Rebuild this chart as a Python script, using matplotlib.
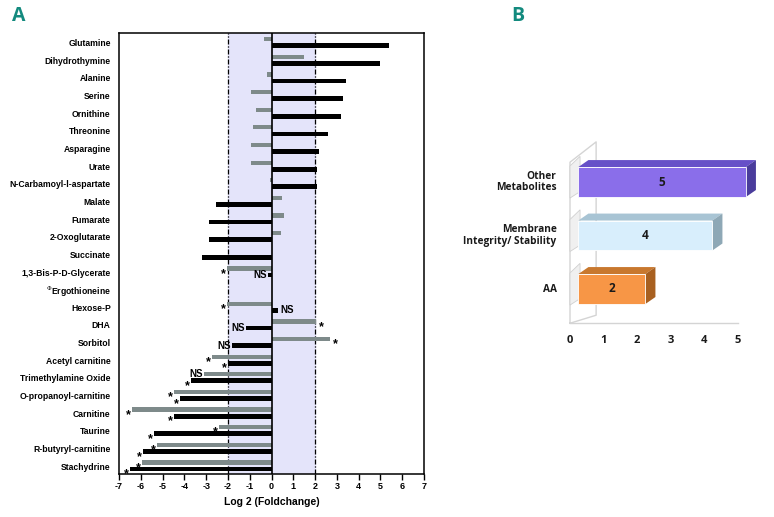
import numpy as np
import matplotlib
matplotlib.use('Agg')
import matplotlib.pyplot as plt
from matplotlib.patches import Polygon, Rectangle

# ---- Panel A data ----
metabolites = ['Glutamine', 'Dihydrothymine', 'Alanine', 'Serine', 'Ornithine', 'Threonine',
               'Asparagine', 'Urate', 'N-Carbamoyl-l-aspartate', 'Malate', 'Fumarate',
               '2-Oxoglutarate', 'Succinate', '1,3-Bis-P-D-Glycerate', r'$^{\Phi}$Ergothioneine',
               'Hexose-P', 'DHA', 'Sorbitol', 'Acetyl carnitine', 'Trimethylamine Oxide',
               'O-propanoyl-carnitine', 'Carnitine', 'Taurine', 'R-butyryl-carnitine', 'Stachydrine']
gray_vals = [-0.33, 1.5, -0.2, -0.96, -0.72, -0.87, -0.95, -0.96, -0.05, 0.47, 0.57,
             0.42, 0.0, -2.05, 0.0, -2.05, 2.05, 2.7, -2.72, -3.08,
             -4.46, -6.4, -2.4, -5.24, -5.95]
black_vals = [5.4, 4.96, 3.4, 3.26, 3.2, 2.59, 2.16, 2.1, 2.08, -2.54, -2.86,
              -2.86, -3.2, -0.14, 0.0, 0.29, -1.16, -1.8, -2.0, -3.7,
              -4.19, -4.46, -5.38, -5.9, -6.48]
gray_marks = ['', '', '', '', '', '', '', '', '', '', '', '', '', '*', '', '*', '*', '*', '*', 'NS',
              '*', '*', '*', '*', '*']
black_marks = ['', '', '', '', '', '', '', '', '', '', '', '', '', 'NS', '', 'NS', 'NS', 'NS', '*', '*',
               '*', '*', '*', '*', '*']
xticks_a = list(range(-7, 8))

# ---- Panel B data ----
groups = ['AA', 'Membrane\nIntegrity/ Stability', 'Other\nMetabolites']
counts = [2, 4, 5]
front_cols = ['#f79646', '#d8eefc', '#8a6eea']
top_cols = ['#c8782e', '#a8c4d4', '#6650c8']
side_cols = ['#a86020', '#8ea8b6', '#4a3c9c']

plt.rcParams['font.family'] = ['Liberation Sans', 'DejaVu Sans']

fig = plt.figure(figsize=(7.74, 5.17), dpi=100)
W, H = 774, 517

# ---------------- Panel A ----------------
ax = fig.add_axes([119 / W, 1 - 474 / H, 305 / W, 441 / H])
n = len(metabolites)
y = np.arange(n)
ax.axvspan(-2, 2, color='#e4e4fa', zorder=0)
ax.barh(y - 0.2, gray_vals, height=0.24, color='#7e8a8a', zorder=2)
ax.barh(y + 0.17, black_vals, height=0.27, color='#000000', zorder=2)
ax.axvline(0, color='black', lw=1.2, zorder=3)
for xv in (-2, 2):
    ax.axvline(xv, color='black', lw=0.9, ls=(0, (4, 1.5, 1, 1.5)), zorder=1)

def mark(val, yy, s):
    if not s:
        return
    fs = 9 if s == '*' else 7
    dy = 0.3 if s == '*' else 0.0
    if val < 0:
        ax.text(val - 0.05, yy + dy, s, ha='right', va='center', fontsize=fs, fontweight='bold', zorder=4)
    else:
        ax.text(val + 0.12, yy + dy, s, ha='left', va='center', fontsize=fs, fontweight='bold', zorder=4)

for i in range(n):
    mark(gray_vals[i], y[i] - 0.2, gray_marks[i])
    mark(black_vals[i], y[i] + 0.17, black_marks[i])

ax.set_xlim(-7, 7)
ax.set_ylim(n - 0.55, -0.55)
ax.set_xticks(xticks_a)
ax.set_xticklabels([str(t) for t in xticks_a], fontsize=6.5, fontweight='bold')
ax.set_yticks(y)
ax.set_yticklabels(metabolites, fontsize=6.2, fontweight='bold')
ax.tick_params(axis='y', length=0, pad=6)
ax.tick_params(axis='x', length=4, width=1, pad=2)
for sp in ax.spines.values():
    sp.set_linewidth(1.1)
ax.set_xlabel('Log 2 (Foldchange)', fontsize=7.5, fontweight='bold', labelpad=4)

fig.text(12 / W, 1 - 16 / H, 'A', fontsize=14, fontweight='bold', color='#138a7e',
         ha='left', va='center', family=['Open Sans', 'DejaVu Sans'])
fig.text(511 / W, 1 - 16 / H, 'B', fontsize=14, fontweight='bold', color='#138a7e',
         ha='left', va='center', family=['Open Sans', 'DejaVu Sans'])

# ---------------- Panel B ----------------
# x: value units (33.5 px per unit, 0 at px 570); y: category units (53.5 px per unit, AA at px 289)
x0px, xs = 570, 33.5
y0px, ys = 289, 53.5
l, r, t, b = 540, 774, 120, 350
bx = fig.add_axes([l / W, 1 - b / H, (r - l) / W, (b - t) / H])
bx.set_xlim((l - x0px) / xs, (r - x0px) / xs)
bx.set_ylim((y0px - b) / ys, (y0px - t) / ys)
bx.axis('off')

floor = -0.64
wall_top = 2.37
dx, dy = 0.78, 0.38
wall_c = '#d4d4d4'
# back wall / floor outline (behind the bars)
bx.plot([0, 5], [floor, floor], color=wall_c, lw=1, zorder=1)
bx.plot([0, 0, dx, dx, 0], [floor, wall_top, wall_top + dy, floor + 0.15, floor],
        color=wall_c, lw=1, zorder=1)

bh = 0.56
ox = 0.25
ddx, ddy = 0.3, 0.13
for i, (g, c) in enumerate(zip(groups, counts)):
    x1, x2 = ox, ox + c
    y1, y2 = i - bh / 2, i + bh / 2
    # shadow tab of the bar on the wall
    bx.add_patch(Polygon([(0, y1 - 0.02), (0, y2 + 0.02), (0.3, y2 + 0.2), (0.3, y1 + 0.1)],
                         closed=True, fc='#f0f0f0', ec='#d0d0d0', lw=0.6, zorder=2))
    bx.add_patch(Polygon([(x1, y2), (x2, y2), (x2 + ddx, y2 + ddy), (x1 + ddx, y2 + ddy)],
                         closed=True, fc=top_cols[i], ec='none', zorder=3))
    bx.add_patch(Polygon([(x2, y1), (x2, y2), (x2 + ddx, y2 + ddy), (x2 + ddx, y1 + ddy)],
                         closed=True, fc=side_cols[i], ec='none', zorder=3))
    bx.add_patch(Rectangle((x1, y1), c, bh, fc=front_cols[i], ec='white', lw=0.6, zorder=4))
    bx.text((x1 + x2) / 2, i, str(c), ha='center', va='center', fontsize=8.5, fontweight='bold',
            color='#1a1a1a', family=['Open Sans', 'DejaVu Sans'], zorder=5)
    bx.text(-0.4, i, g, ha='right', va='center', fontsize=7.3, fontweight='bold',
            color='#1a1a1a', family=['Open Sans', 'DejaVu Sans'], linespacing=1.1)

for v in range(0, 6):
    bx.text(v, -0.96, str(v), ha='center', va='center', fontsize=8, fontweight='bold',
            color='#1a1a1a', family=['Open Sans', 'DejaVu Sans'])

fig.savefig('out.png', dpi=100)
